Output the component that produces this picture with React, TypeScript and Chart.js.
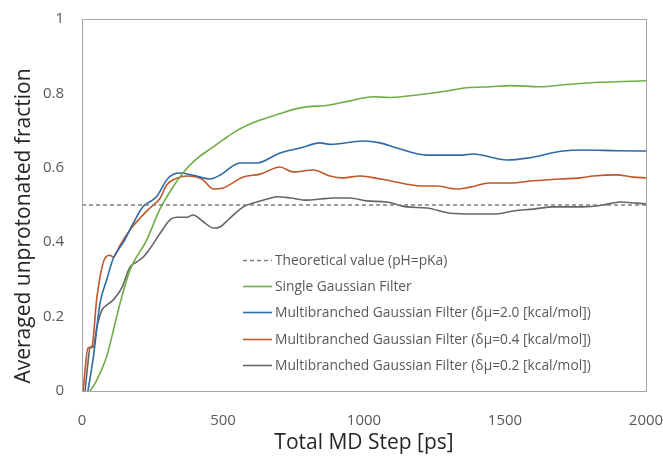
import React, { useEffect, useRef } from "react";
import { Chart, registerables } from "chart.js";

Chart.register(...registerables);

// ---- data ----
const xTicks = [0, 500, 1000, 1500, 2000];
const yTicks = [0, 0.2, 0.4, 0.6, 0.8, 1];

const theoreticalX = [0, 2000];
const theoreticalY = [0.5, 0.5];

const singleX = [28, 46, 87, 135, 170, 229, 277, 320, 358, 400, 465, 500, 549, 620, 700, 773, 879, 950, 1032, 1092, 1200, 1280, 1365, 1450, 1518, 1624, 1720, 1837, 1920, 2000];
const singleY = [0, 0.02, 0.092, 0.236, 0.325, 0.405, 0.49, 0.545, 0.586, 0.62, 0.656, 0.675, 0.7, 0.725, 0.745, 0.761, 0.769, 0.78, 0.791, 0.789, 0.797, 0.805, 0.815, 0.818, 0.821, 0.818, 0.824, 0.83, 0.832, 0.834];

const mb20X = [21, 40, 64, 88, 111, 147, 181, 216, 264, 305, 347, 394, 454, 489, 560, 620, 702, 773, 844, 879, 997, 1057, 1117, 1223, 1340, 1387, 1507, 1578, 1706, 1777, 1900, 2000];
const mb20Y = [0, 0.09, 0.236, 0.3, 0.357, 0.4, 0.45, 0.495, 0.522, 0.572, 0.586, 0.58, 0.57, 0.58, 0.613, 0.613, 0.64, 0.653, 0.667, 0.663, 0.672, 0.667, 0.653, 0.634, 0.634, 0.637, 0.621, 0.626, 0.645, 0.648, 0.646, 0.645];

const mb04X = [4, 21, 35, 53, 82, 99, 111, 135, 170, 206, 241, 277, 300, 336, 371, 406, 430, 466, 501, 572, 632, 702, 749, 820, 879, 926, 986, 1021, 1080, 1152, 1210, 1258, 1329, 1376, 1447, 1518, 1601, 1695, 1766, 1813, 1896, 1955, 2000];
const mb04Y = [0, 0.115, 0.12, 0.253, 0.358, 0.365, 0.36, 0.392, 0.433, 0.465, 0.492, 0.518, 0.554, 0.572, 0.578, 0.575, 0.567, 0.543, 0.546, 0.575, 0.583, 0.602, 0.589, 0.594, 0.578, 0.573, 0.578, 0.575, 0.567, 0.556, 0.551, 0.551, 0.543, 0.548, 0.559, 0.559, 0.565, 0.57, 0.573, 0.578, 0.581, 0.575, 0.573];

const mb02X = [11, 21, 28, 40, 53, 71, 88, 111, 141, 170, 194, 217, 241, 277, 312, 336, 371, 394, 430, 466, 489, 525, 572, 620, 667, 690, 738, 797, 844, 891, 950, 1010, 1080, 1152, 1223, 1305, 1387, 1470, 1529, 1601, 1671, 1777, 1848, 1908, 1967, 2000];
const mb02Y = [0, 0.075, 0.115, 0.118, 0.172, 0.218, 0.231, 0.245, 0.277, 0.333, 0.347, 0.36, 0.383, 0.424, 0.46, 0.467, 0.467, 0.473, 0.455, 0.438, 0.441, 0.465, 0.495, 0.508, 0.518, 0.522, 0.519, 0.513, 0.516, 0.519, 0.519, 0.511, 0.508, 0.495, 0.492, 0.478, 0.476, 0.476, 0.484, 0.489, 0.495, 0.495, 0.5, 0.508, 0.505, 0.503];

const labels = [
  "Theoretical value (pH=pKa)",
  "Single Gaussian Filter",
  "Multibranched Gaussian Filter (δμ=2.0 [kcal/mol])",
  "Multibranched Gaussian Filter (δμ=0.4 [kcal/mol])",
  "Multibranched Gaussian Filter (δμ=0.2 [kcal/mol])",
];
const xTitle = "Total MD Step [ps]";
const yTitle = "Averaged unprotonated fraction";

const FONT = "'Open Sans'";
const TICK_COLOR = "#595959";

const zip = (xs: number[], ys: number[]) => xs.map((x, i) => ({ x, y: ys[i] }));

const frameLegendPlugin = {
  id: "frameLegend",
  afterDatasetsDraw(chart: any) {
    const { ctx, chartArea: ca } = chart;
    ctx.save();
    ctx.strokeStyle = "#a6a6a6";
    ctx.lineWidth = 1;
    ctx.setLineDash([]);
    ctx.strokeRect(Math.round(ca.left) + 0.5, Math.round(ca.top) + 0.5, Math.round(ca.right - ca.left), Math.round(ca.bottom - ca.top));

    // legend inside plot area
    const x0 = ca.left + 161;
    const lineLen = 29;
    const y0 = ca.top + 241;
    const step = 26.2;
    ctx.font = `13.8px ${FONT}`;
    ctx.textBaseline = "middle";
    ctx.textAlign = "left";
    chart.data.datasets.forEach((ds: any, i: number) => {
      const y = Math.round(y0 + i * step) + 0.5;
      ctx.beginPath();
      ctx.strokeStyle = ds.borderColor;
      ctx.lineWidth = ds.borderWidth;
      ctx.setLineDash(ds.borderDash || []);
      ctx.moveTo(x0, y);
      ctx.lineTo(x0 + lineLen, y);
      ctx.stroke();
      ctx.setLineDash([]);
      ctx.fillStyle = TICK_COLOR;
      ctx.fillText(ds.label, x0 + lineLen + 3, y + 0.5);
    });

    // y-axis title
    ctx.save();
    ctx.translate(24, ca.top + 207);
    ctx.rotate(-Math.PI / 2);
    ctx.font = `21px ${FONT}`;
    ctx.fillStyle = "#262626";
    ctx.textAlign = "center";
    ctx.textBaseline = "middle";
    ctx.fillText(yTitle, 0, 0);
    ctx.restore();
    ctx.restore();
  },
};

export default function App() {
  const ref = useRef<HTMLCanvasElement>(null);
  useEffect(() => {
    document.body.style.margin = "0";
    const canvas = ref.current!;
    const chart = new Chart(canvas, {
      type: "line",
      data: {
        datasets: [
          { label: labels[0], data: zip(theoreticalX, theoreticalY), borderColor: "#7f7f7f", borderWidth: 1.3, borderDash: [4, 3] },
          { label: labels[1], data: zip(singleX, singleY), borderColor: "#70ad47", borderWidth: 1.6 },
          { label: labels[2], data: zip(mb20X, mb20Y), borderColor: "#2e6aa6", borderWidth: 1.6 },
          { label: labels[3], data: zip(mb04X, mb04Y), borderColor: "#c0572a", borderWidth: 1.6 },
          { label: labels[4], data: zip(mb02X, mb02Y), borderColor: "#666666", borderWidth: 1.6 },
        ] as any,
      },
      options: {
        animation: false,
        responsive: false,
        devicePixelRatio: 1,
        elements: { point: { radius: 0 }, line: { cubicInterpolationMode: "monotone" } },
        layout: { padding: { top: 19, right: 17, left: 0, bottom: 0 } },
        plugins: { legend: { display: false }, tooltip: { enabled: false } },
        scales: {
          x: {
            type: "linear",
            min: 0,
            max: 2000,
            afterBuildTicks: (s: any) => { s.ticks = xTicks.map((v) => ({ value: v })); },
            afterFit: (s: any) => { s.height = 66; s.paddingLeft = 0; s.paddingRight = 0; },
            grid: { display: false, drawTicks: false },
            border: { display: false },
            ticks: { color: TICK_COLOR, font: { family: FONT, size: 15 }, padding: 21, maxRotation: 0, autoSkip: false, callback: (v: any) => String(v) },
            title: { display: true, text: xTitle, color: "#262626", font: { family: FONT, size: 21 }, padding: { top: 0, bottom: 1 } },
          },
          y: {
            type: "linear",
            min: 0,
            max: 1,
            afterBuildTicks: (s: any) => { s.ticks = yTicks.map((v) => ({ value: v })); },
            afterFit: (s: any) => { s.width = 82; s.paddingTop = 0; s.paddingBottom = 0; },
            grid: { display: false, drawTicks: false },
            border: { display: false },
            ticks: { color: TICK_COLOR, font: { family: FONT, size: 15 }, padding: 18, callback: (v: any) => String(v) },
            title: { display: false },
          },
        },
      } as any,
      plugins: [frameLegendPlugin],
    });
    return () => chart.destroy();
  }, []);
  return (
    <div style={{ position: "absolute", left: 0, top: 0, width: 663, height: 457, background: "#fff" }}>
      <canvas ref={ref} width={663} height={457} style={{ display: "block" }} />
    </div>
  );
}
